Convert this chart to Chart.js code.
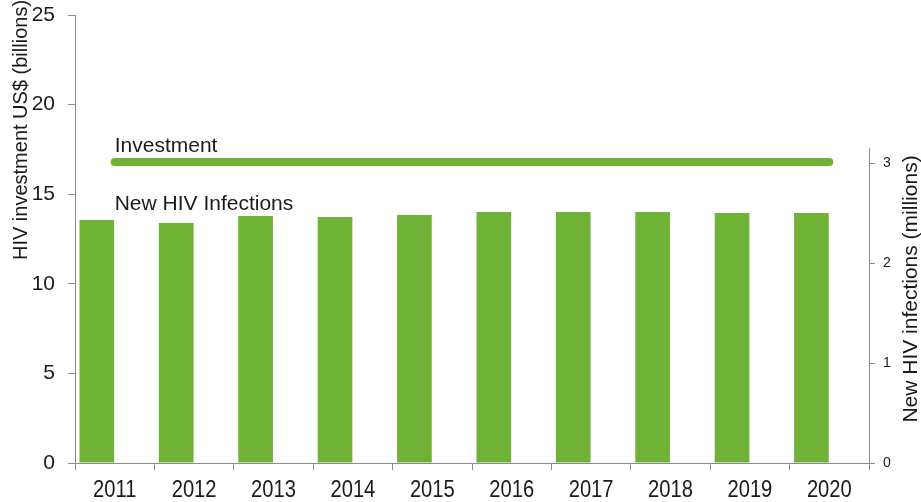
<!DOCTYPE html>
<html>
<head>
<meta charset="utf-8">
<title>HIV investment and new HIV infections</title>
<script src="https://cdn.jsdelivr.net/npm/chart.js@4.4.1/dist/chart.umd.min.js"></script>
<style>
  html, body { margin: 0; padding: 0; background: #fff; }
  #wrap { width: 921px; height: 502px; position: relative; }
</style>
</head>
<body>
<div id="wrap"><canvas id="chart"></canvas></div>
<script>
// Data
const years = ['2011', '2012', '2013', '2014', '2015', '2016', '2017', '2018', '2019', '2020'];
const newInfections = [2.43, 2.40, 2.47, 2.46, 2.48, 2.51, 2.51, 2.51, 2.50, 2.50]; // millions, right axis
const investment = [16.8, 16.8, 16.8, 16.8, 16.8, 16.8, 16.8, 16.8, 16.8, 16.8]; // US$ billions, left axis
const leftTitle = 'HIV investment US$ (billions)';
const rightTitle = 'New HIV infections (millions)';

const GREEN = '#70b236';
const AXIS = '#8c8c8c';
const TEXT = '#1a1a1a';
const SANS = '"Liberation Sans", Arial, sans-serif';

// Series labels, axis titles, narrow year labels and the short right spine
const decorations = {
  id: 'decorations',
  afterDraw(chart) {
    const { ctx, scales: { x, y, y1 }, chartArea } = chart;
    ctx.save();

    // right spine only runs a little past the top tick
    ctx.strokeStyle = AXIS;
    ctx.lineWidth = 1;
    ctx.beginPath();
    ctx.moveTo(y1.left + 0.5, y1.getPixelForValue(3.15));
    ctx.lineTo(y1.left + 0.5, chartArea.bottom);
    ctx.stroke();

    ctx.fillStyle = TEXT;
    ctx.font = '21px ' + SANS;
    ctx.textAlign = 'left';
    ctx.textBaseline = 'alphabetic';
    const x0 = x.getPixelForValue(0);
    ctx.fillText('Investment', x0, y.getPixelForValue(investment[0]) - 10);
    ctx.fillText('New HIV Infections', x0, y1.getPixelForValue(Math.max(...newInfections)) - 2);

    // year labels, set in a condensed style like the original
    ctx.textAlign = 'center';
    ctx.textBaseline = 'middle';
    ctx.font = '24px ' + SANS;
    years.forEach((yr, i) => {
      ctx.save();
      ctx.translate(x.getPixelForValue(i), chartArea.bottom + 27);
      ctx.scale(0.84, 1);
      ctx.fillText(yr, 0, 0);
      ctx.restore();
    });

    // axis titles
    ctx.font = '20px ' + SANS;
    ctx.save();
    ctx.translate(21, 130);
    ctx.rotate(-Math.PI / 2);
    ctx.fillText(leftTitle, 0, 0);
    ctx.restore();

    ctx.font = '21px ' + SANS;
    ctx.save();
    ctx.translate(911, 289);
    ctx.rotate(-Math.PI / 2);
    ctx.fillText(rightTitle, 0, 0);
    ctx.restore();

    ctx.restore();
  }
};

// fixed scale sizes, no extra room for the top tick label
function fixWidth(w) {
  return (s) => { s.width = w; s.paddingTop = 0; s.paddingBottom = 0; };
}

const ctx = document.getElementById('chart');
new Chart(ctx, {
  type: 'bar',
  data: {
    labels: years,
    datasets: [
      {
        type: 'line',
        label: 'Investment',
        data: investment,
        yAxisID: 'y',
        borderColor: GREEN,
        borderWidth: 8,
        borderCapStyle: 'round',
        pointRadius: 0,
        fill: false,
        order: 0
      },
      {
        label: 'New HIV Infections',
        data: newInfections,
        yAxisID: 'y1',
        backgroundColor: GREEN,
        borderWidth: 0,
        barPercentage: 0.97,
        categoryPercentage: 0.9,
        order: 1
      },
      {
        // empty second slot, keeps the bars in the left half of each year
        label: '',
        data: years.map(() => null),
        yAxisID: 'y1',
        backgroundColor: 'rgba(0,0,0,0)',
        barPercentage: 0.97,
        categoryPercentage: 0.9,
        order: 2
      }
    ]
  },
  options: {
    responsive: true,
    maintainAspectRatio: false,
    animation: false,
    layout: { padding: { top: 15, left: 0, right: 0, bottom: 0 } },
    plugins: {
      legend: { display: false },
      tooltip: { enabled: false }
    },
    scales: {
      x: {
        grid: { offset: true, drawOnChartArea: false, tickLength: 7, color: AXIS },
        border: { color: AXIS },
        ticks: { display: false },
        afterFit: (s) => { s.height = 39; }
      },
      y: {
        position: 'left',
        min: 0,
        max: 25,
        grid: { drawOnChartArea: false, tickLength: 7, color: AXIS },
        border: { color: AXIS },
        ticks: { stepSize: 5, color: TEXT, font: { size: 21, family: SANS }, padding: 13 },
        afterFit: fixWidth(75)
      },
      y1: {
        position: 'right',
        min: 0,
        max: 4.48,
        grid: { drawOnChartArea: false, tickLength: 6, color: AXIS },
        border: { display: false },
        ticks: { stepSize: 1, color: TEXT, font: { size: 14, family: SANS }, padding: 8 },
        afterBuildTicks: (s) => { s.ticks = s.ticks.filter(t => t.value <= 3); },
        afterFit: fixWidth(52)
      }
    }
  },
  plugins: [decorations]
});
</script>
</body>
</html>
